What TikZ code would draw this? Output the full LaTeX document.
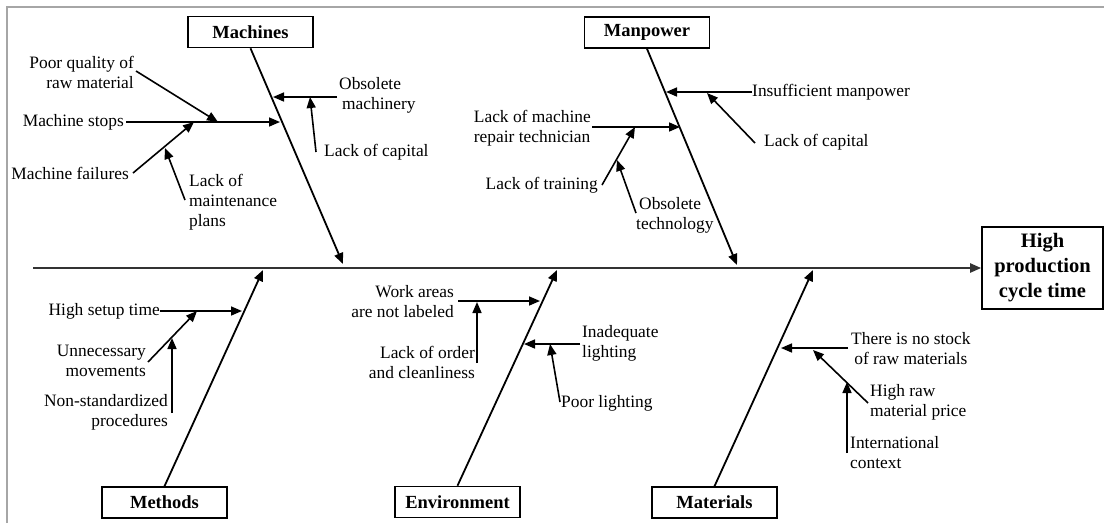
\documentclass[tikz,border=0pt]{standalone}
\usepackage{fontspec}
\setmainfont{Liberation Serif}
\usetikzlibrary{arrows.meta}
\begin{document}
\begin{tikzpicture}[x=1pt,y=-1pt,
  cause/.style={font=\fontsize{17.4}{20}\selectfont, inner sep=0pt, text=black},
  catbox/.style={draw, line width=1.6pt, minimum width=125pt, minimum height=31pt, inner sep=0pt,
                 font=\fontsize{18.5}{22}\selectfont\bfseries},
  headbox/.style={draw, line width=1.6pt, minimum width=121pt, minimum height=82pt, inner sep=0pt,
                  align=center, font=\fontsize{20.5}{25}\selectfont\bfseries},
  tip/.style={-{Triangle[length=11pt,width=9pt]}},
  bone/.style={tip, line width=1.8pt},
  sub/.style={tip, line width=1.6pt},
  spine/.style={tip, line width=2.2pt, black!80},
  frame/.style={line width=2pt, black!35}
]
\useasboundingbox (0,0) rectangle (1104,523);
% outer frame (top and left edges)
\draw[frame] (7,523) -- (7,7) -- (1104,7);

% effect and categories
\node[headbox] (head) at (1042.5,268) {High\\production\\cycle time};
\node[catbox] (mach) at (250.5,32) {Machines};
\node[catbox] (manp) at (647,32.5) {Manpower};
\node[catbox] (meth) at (164.5,502.5) {Methods};
\node[catbox] (envi) at (457.5,502) {Environment};
\node[catbox] (matl) at (714.5,502.5) {Materials};

% spine
\coordinate (tail) at (33,268);
\draw[spine] (tail) -- (head.west);

% bone end points
\coordinate (machT) at (343,264);
\coordinate (manpT) at (737,265);
\coordinate (methT) at (263,270);
\coordinate (enviT) at (557,270);
\coordinate (matlT) at (813,270);
\draw[bone] (mach.south) -- (machT);
\draw[bone] (manp.south) -- (manpT);
\draw[bone] (meth.north) -- (methT);
\draw[bone] (envi.north) -- (enviT);
\draw[bone] (matl.north) -- (matlT);

% ---------- Machines ----------
\node[cause, align=right, anchor=east] (poorq) at (134,72) {Poor quality of\\raw material};
\node[cause, anchor=east] (stops) at (124,122) {Machine stops};
\node[cause, anchor=east] (fail) at (129,173) {Machine failures};
\node[cause, align=left, anchor=west] (maint) at (189,202) {Lack of\\maintenance\\plans};
\node[cause, align=left, anchor=west] (obsm) at (339,95) {Obsolete\\\hspace*{3pt}machinery};
\node[cause, anchor=west] (capm) at (324,152) {Lack of capital};

\coordinate (poorqS) at (136,71);   \coordinate (poorqT) at (218,122);
\coordinate (stopsS) at (126,122);  \coordinate (stopsT) at (280,122);
\coordinate (failS) at (133,173);   \coordinate (failT) at (194,122);
\coordinate (maintS) at (185,200);  \coordinate (maintT) at (165,148);
\coordinate (obsmS) at (337,97);    \coordinate (obsmT) at (273,97);
\coordinate (capmS) at (316,152);   \coordinate (capmT) at (310,97);
\draw[sub] (poorqS) -- (poorqT);
\draw[sub] (stopsS) -- (stopsT);
\draw[sub] (failS) -- (failT);
\draw[sub] (maintS) -- (maintT);
\draw[sub] (obsmS) -- (obsmT);
\draw[sub] (capmS) -- (capmT);

% ---------- Manpower ----------
\node[cause, anchor=west] (insuf) at (752,92) {Insufficient manpower};
\node[cause, anchor=west] (capp) at (764,142) {Lack of capital};
\node[cause, align=left, anchor=east] (repair) at (591,128) {Lack of machine\\repair technician};
\node[cause, anchor=east] (train) at (598,185) {Lack of training};
\node[cause, align=left, anchor=west] (obst) at (636,215) {\hspace*{3pt}Obsolete\\technology};

\coordinate (insufS) at (752,92);   \coordinate (insufT) at (666,92);
\coordinate (cappS) at (755,143);   \coordinate (cappT) at (707,93);
\coordinate (repairS) at (592,127); \coordinate (repairT) at (680,127);
\coordinate (trainS) at (602,185);  \coordinate (trainT) at (635,127);
\coordinate (obstS) at (636,213);   \coordinate (obstT) at (617,160);
\draw[sub] (insufS) -- (insufT);
\draw[sub] (cappS) -- (cappT);
\draw[sub] (repairS) -- (repairT);
\draw[sub] (trainS) -- (trainT);
\draw[sub] (obstS) -- (obstT);

% ---------- Methods ----------
\node[cause, anchor=east] (setup) at (160,311) {High setup time};
\node[cause, align=right, anchor=east] (unnec) at (146,361) {Unnecessary\\movements};
\node[cause, align=right, anchor=east] (nonst) at (168,412) {Non-standardized\\procedures};

\coordinate (setupS) at (160,311);  \coordinate (setupT) at (242,311);
\coordinate (unnecS) at (148,362);  \coordinate (unnecT) at (197,311);
\coordinate (nonstS) at (172,413);  \coordinate (nonstT) at (172,338);
\draw[sub] (setupS) -- (setupT);
\draw[sub] (unnecS) -- (unnecT);
\draw[sub] (nonstS) -- (nonstT);

% ---------- Environment ----------
\node[cause, align=right, anchor=east] (work) at (454,302) {Work areas\\are not labeled};
\node[cause, align=right, anchor=east] (order) at (475,362) {Lack of order\\and cleanliness};
\node[cause, align=left, anchor=west] (inadq) at (582,343) {Inadequate\\lighting};
\node[cause, anchor=west] (poorl) at (561,403) {Poor lighting};

\coordinate (workS) at (458,301);   \coordinate (workT) at (540,301);
\coordinate (orderS) at (477,363);  \coordinate (orderT) at (477,302);
\coordinate (inadqS) at (580,344);  \coordinate (inadqT) at (524,344);
\coordinate (poorlS) at (560,402);  \coordinate (poorlT) at (550,344);
\draw[sub] (workS) -- (workT);
\draw[sub] (orderS) -- (orderT);
\draw[sub] (inadqS) -- (inadqT);
\draw[sub] (poorlS) -- (poorlT);

% ---------- Materials ----------
\node[cause, align=center, anchor=west] (stock) at (851,349) {There is no stock\\of raw materials};
\node[cause, align=left, anchor=west] (price) at (870,402) {High raw\\material price};
\node[cause, align=left, anchor=west] (intl) at (850,453) {International\\context};

\coordinate (stockS) at (848,348);  \coordinate (stockT) at (781,348);
\coordinate (priceS) at (868,403);  \coordinate (priceT) at (813,350);
\coordinate (intlS) at (847,453);   \coordinate (intlT) at (847,382);
\draw[sub] (stockS) -- (stockT);
\draw[sub] (priceS) -- (priceT);
\draw[sub] (intlS) -- (intlT);
\end{tikzpicture}
\end{document}
